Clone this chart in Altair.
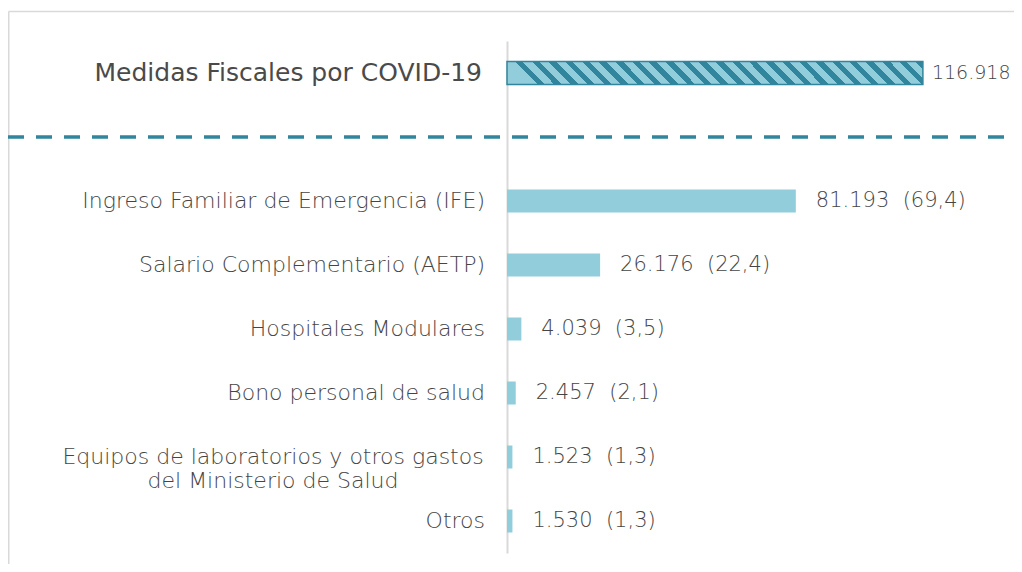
import altair as alt
import pandas as pd

# ---- data ----
total_label = "Medidas Fiscales por COVID-19"
total_value = 116918
categories = [
    "Ingreso Familiar de Emergencia (IFE)",
    "Salario Complementario (AETP)",
    "Hospitales Modulares",
    "Bono personal de salud",
    "Equipos de laboratorios y otros gastos|del Ministerio de Salud",
    "Otros",
]
values = [81193, 26176, 4039, 2457, 1523, 1530]
shares = [69.4, 22.4, 3.5, 2.1, 1.3, 1.3]
gap = " "

DARK = "#31859c"
LIGHT = "#92cddc"
TEXT = "#454545"
FONT = "DejaVu Sans"


def fmt_int(v):
    return f"{v:,}".replace(",", ".")


def fmt_pct(p):
    return f"{p:.1f}".replace(".", ",")


rows = [{"cat": total_label, "value": total_value, "kind": "total",
         "label": fmt_int(total_value)}]
for c, v, p in zip(categories, values, shares):
    rows.append({"cat": c, "value": v, "kind": "item",
                 "label": f"{fmt_int(v)}\u00a0\u00a0({fmt_pct(p)})"})
df = pd.DataFrame(rows)
domain = [total_label, gap] + categories

yscale = alt.Scale(domain=domain, paddingInner=0, paddingOuter=0)
y_enc = alt.Y("cat:N", scale=yscale, sort=domain,
              axis=alt.Axis(labels=False, ticks=False, title=None, grid=False,
                            domainColor="#d9d9d9", domainWidth=2))
x_enc = alt.X("value:Q", scale=alt.Scale(domain=[0, 140000], nice=False), axis=None)

base = alt.Chart(df)

# hatched fill for the total bar (diagonal stripes via hard-stop gradient)
N = 25
stops = []
for k in range(N):
    a = k / N
    b = (k + 0.55) / N
    c = min((k + 1) / N, 1.0)
    stops += [alt.GradientStop(offset=a, color=LIGHT), alt.GradientStop(offset=b, color=LIGHT),
              alt.GradientStop(offset=b, color=DARK), alt.GradientStop(offset=c, color=DARK)]
hatch = alt.LinearGradient(gradient="linear", stops=stops, x1=0, y1=0.055, x2=1, y2=0)

total_bar = base.transform_filter("datum.kind == 'total'").mark_bar(
    size=23, fill=hatch, stroke=DARK, strokeWidth=1.5
).encode(x=x_enc, y=y_enc)

item_bars = base.transform_filter("datum.kind == 'item'").mark_bar(
    size=23, color=LIGHT
).encode(x=x_enc, y=y_enc)

item_values = base.transform_filter("datum.kind == 'item'").mark_text(
    align="left", baseline="middle", dx=20, fontSize=21, font=FONT, fontWeight=300, color=TEXT
).encode(x=x_enc, y=y_enc, text="label:N")

total_value_text = base.transform_filter("datum.kind == 'total'").mark_text(
    align="left", baseline="middle", dx=9, fontSize=19, font=FONT, fontWeight=300, color=TEXT
).encode(x=x_enc, y=y_enc, text="label:N")

title_text = base.transform_filter("datum.kind == 'total'").mark_text(
    align="right", baseline="middle", fontSize=25, font=FONT, fontWeight=400, color="#4a4a4a"
).encode(x=alt.value(-25), y=y_enc, text="cat:N")

cat_text = base.transform_filter("datum.kind == 'item'").mark_text(
    align=alt.ExprRef(expr="indexof(datum.cat, '|') >= 0 ? 'center' : 'right'"),
    dx=alt.ExprRef(expr="indexof(datum.cat, '|') >= 0 ? -212 : 0"),
    baseline="middle", lineBreak="|", lineHeight=24,
    fontSize=22, font=FONT, fontWeight=300, color=TEXT
).encode(x=alt.value(-22), y=y_enc, text="cat:N")

sep = alt.Chart(pd.DataFrame({"cat": [gap]})).mark_rule(
    strokeDash=[16, 12], strokeWidth=3.5, color=DARK
).encode(y=y_enc, x=alt.value(-499), x2=alt.value(507))

frame_df = pd.DataFrame({"k": [0]})
frame_top = alt.Chart(frame_df).mark_rule(color="#d9d9d9", strokeWidth=1.5).encode(
    x=alt.value(-498.5), x2=alt.value(507), y=alt.value(-29.5))
frame_left = alt.Chart(frame_df).mark_rule(color="#d9d9d9", strokeWidth=1.5).encode(
    x=alt.value(-498.25), y=alt.value(-29.5), y2=alt.value(523))

chart = alt.layer(
    frame_top, frame_left, sep, total_bar, item_bars, item_values, total_value_text,
    title_text, cat_text
).properties(
    width=498, height=512,
    padding={"left": 499, "top": 33, "right": 9, "bottom": 11},
    autosize="none",
).configure_view(stroke=None)

chart.save("out.html", embed_options={"renderer": "svg", "actions": False})
